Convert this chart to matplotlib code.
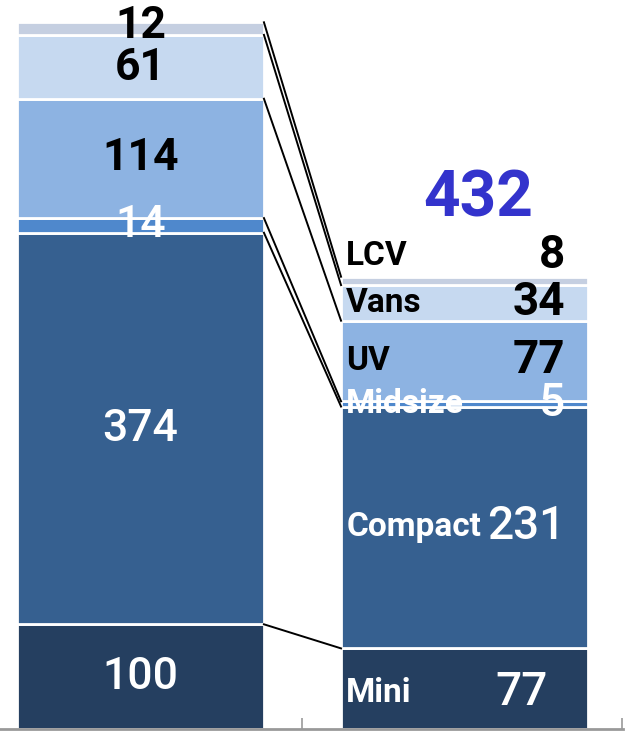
import matplotlib.pyplot as plt

# dati
segmenti = ["Mini", "Compact", "Midsize", "UV", "Vans", "LCV"]
sinistra = [100, 374, 14, 114, 61, 12]
destra = [77, 231, 5, 77, 34, 8]
totale_destra = 432
colori = ["#253f60", "#366090", "#4f88cc", "#8db3e2", "#c6d9f0", "#c5cfe1"]
col_testo = ["white", "white", "white", "black", "black", "black"]

fig = plt.figure(figsize=(6.25, 7.35), dpi=100)
ax = fig.add_axes([0, 6 / 735, 1, 729 / 735])

w = 0.762
base_s = 0
base_d = 0
top_s = []
top_d = []
for i in range(len(segmenti)):
    ax.bar(0, sinistra[i], w, bottom=base_s, color=colori[i], edgecolor="white", linewidth=2)
    ax.bar(1, destra[i], w, bottom=base_d, color=colori[i], edgecolor="white", linewidth=2)
    peso = "bold" if col_testo[i] == "black" else "medium"
    # etichette barra sinistra (12 e 61 un po' separati)
    ys = base_s + sinistra[i] / 2
    if segmenti[i] == "LCV":
        ys += 2
    if segmenti[i] == "Vans":
        ys -= 1.5
    ax.text(0, ys, str(sinistra[i]), ha="center", va="center",
            color=col_testo[i], fontsize=32, fontweight=peso, family="Roboto")
    # etichette barra destra
    y = base_d + destra[i] / 2
    if segmenti[i] == "LCV":
        y = base_d + destra[i] + 20
    if segmenti[i] == "Mini":
        y = y - 4
    xn = 1.258 if segmenti[i] == "Mini" else 1.31
    ax.text(0.635, y, segmenti[i], ha="left", va="center", color=col_testo[i],
            fontsize=24, fontweight="bold", family="Roboto")
    ax.text(xn, y + 1, str(destra[i]), ha="right", va="center", color=col_testo[i],
            fontsize=33, fontweight=peso, family="Roboto")
    base_s += sinistra[i]
    base_d += destra[i]
    top_s.append(base_s)
    top_d.append(base_d)

# linee di collegamento
for i in range(len(segmenti)):
    ax.plot([w / 2, 1 - w / 2], [top_s[i], top_d[i]], color="black", lw=1.4)

ax.text(1.042, 506, str(totale_destra), ha="center", va="center", color="#3333cc",
        fontsize=46, fontweight="bold", family="Roboto")

ax.set_xlim(-0.4336, 1.4954)
ax.set_ylim(0, 696.3)
for s in ["top", "left", "right"]:
    ax.spines[s].set_visible(False)
ax.spines["bottom"].set_color("#999999")
ax.spines["bottom"].set_linewidth(2)
ax.spines["bottom"].set_bounds(-0.4336, 1.488)
ax.set_xticks([0.5, 1.487])
ax.set_xticklabels([])
ax.tick_params(axis="x", direction="in", length=8, color="#999999", width=1.2)
ax.set_yticks([])

fig.savefig("out.png", dpi=100)
